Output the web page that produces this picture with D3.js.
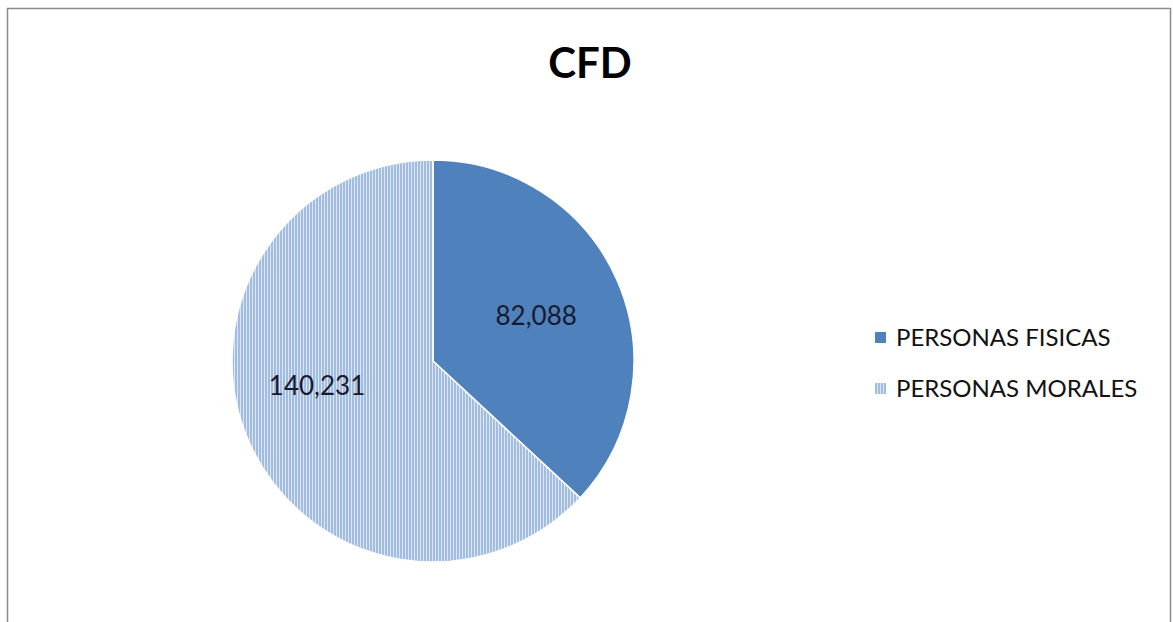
<!DOCTYPE html>
<html>
<head>
<meta charset="utf-8">
<script src="https://cdn.jsdelivr.net/npm/d3@7"></script>
<style>
  body { margin: 0; background: #fff; }
  svg { display: block; }
  text { font-family: Lato, "Open Sans", sans-serif; }
</style>
</head>
<body>
<div id="chart"></div>
<script>
// Data
var categories = ["PERSONAS FISICAS", "PERSONAS MORALES"];
var values     = [82088, 140231];
var title      = "CFD";

var WIDTH  = 1173;
var HEIGHT = 622;
var CX = 433, CY = 361, RADIUS = 201;
// label radius (fraction of R) and angle nudge (rad) per slice, Excel-like placement
var LABEL_R     = [0.56, 0.59];
var LABEL_NUDGE = [0, 0.2];

var svg = d3.select("#chart").append("svg")
    .attr("width", WIDTH)
    .attr("height", HEIGHT);

// vertical stripe pattern for the second slice
var defs = svg.append("defs");
var pat = defs.append("pattern")
    .attr("id", "stripes")
    .attr("patternUnits", "userSpaceOnUse")
    .attr("width", 3)
    .attr("height", 10);
pat.append("rect")
    .attr("width", 3).attr("height", 10)
    .attr("fill", "#a3bde0");
pat.append("rect")
    .attr("x", 2).attr("width", 1).attr("height", 10)
    .attr("fill", "#dbe6f4");

var fills = ["#4f81bd", "url(#stripes)"];

// chart frame
svg.append("rect")
    .attr("x", 7.5).attr("y", 8.5)
    .attr("width", 1163).attr("height", 630)
    .attr("fill", "#fff")
    .attr("stroke", "#8c8c8c")
    .attr("stroke-width", 1.5);

svg.append("text")
    .attr("x", 590).attr("y", 78)
    .attr("text-anchor", "middle")
    .attr("font-size", 42)
    .attr("font-weight", "bold")
    .attr("fill", "#000")
    .text(title);

var pie = d3.pie().sort(null).value(function(d) { return d; });
var arc = d3.arc().innerRadius(0).outerRadius(RADIUS);

var g = svg.append("g").attr("transform", "translate(" + CX + "," + CY + ")");
var arcs = pie(values);

g.selectAll("path.slice")
    .data(arcs)
    .enter().append("path")
    .attr("class", "slice")
    .attr("d", arc)
    .attr("fill", function(d, i) { return fills[i]; })
    .attr("stroke", "#fff")
    .attr("stroke-width", 1.5);

var fmt = d3.format(",");
g.selectAll("text.lbl")
    .data(arcs)
    .enter().append("text")
    .attr("class", "lbl")
    .attr("transform", function(d, i) {
        var a = (d.startAngle + d.endAngle) / 2 + LABEL_NUDGE[i];
        var r = RADIUS * LABEL_R[i];
        return "translate(" + (r * Math.sin(a)) + "," + (-r * Math.cos(a)) + ")";
    })
    .attr("text-anchor", "middle")
    .attr("dy", "0.35em")
    .attr("font-size", 26)
    .attr("fill", "#1a1a2e")
    .text(function(d) { return fmt(d.data); });

// legend
var legend = svg.append("g").attr("transform", "translate(875,332)");
var item = legend.selectAll("g")
    .data(categories)
    .enter().append("g")
    .attr("transform", function(d, i) { return "translate(0," + (i * 51) + ")"; });
item.append("rect")
    .attr("width", 11).attr("height", 11)
    .attr("fill", function(d, i) { return fills[i]; });
item.append("text")
    .attr("x", 21).attr("y", 6)
    .attr("dy", "0.35em")
    .attr("font-size", 24)
    .attr("fill", "#111")
    .text(function(d) { return d; });
</script>
</body>
</html>
